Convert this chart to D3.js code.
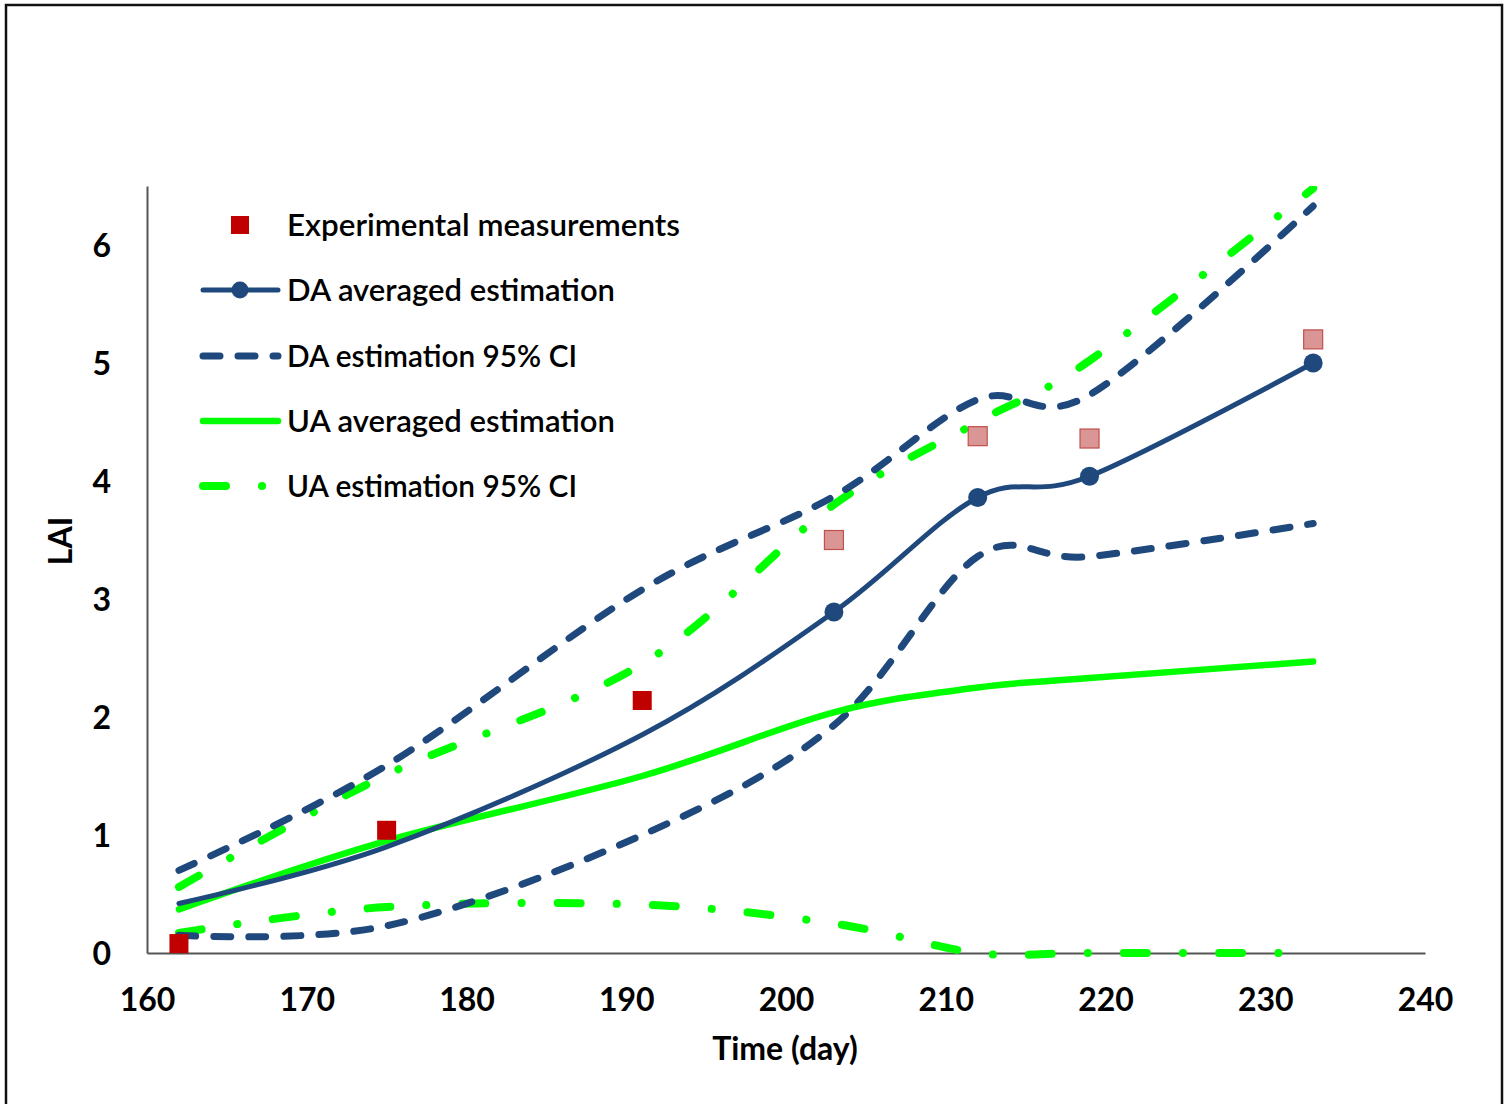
<!DOCTYPE html>
<html>
<head>
<meta charset="utf-8">
<script src="https://cdn.jsdelivr.net/npm/d3@7"></script>
<style>
  html, body { margin: 0; padding: 0; background: #fff; }
  svg { display: block; }
</style>
</head>
<body>
<svg id="chart" width="1508" height="1104"></svg>
<script>
// ---------------- data ----------------
const days          = [162, 175, 191, 203, 212, 219, 233];
const measured      = [0.08, 1.04, 2.14, 3.50, 4.38, 4.36, 5.20];
const assimilated   = [true, true, true, false, false, false, false];
const daMean        = [0.42, 0.90, 1.85, 2.89, 3.86, 4.04, 5.00];
const daMarker      = [false, false, false, true, true, true, true];
const daUpper       = [0.70, 1.59, 3.08, 3.87, 4.69, 4.73, 6.33];
const daLower       = [0.15, 0.23, 1.00, 1.93, 3.36, 3.36, 3.64];
const uaMean        = [0.37, 0.95, 1.50, 2.04, 2.25, 2.33, 2.47];
const uaUpper       = [0.56, 1.51, 2.45, 3.80, 4.50, 5.02, 6.48];
const uaLower       = [0.17, 0.39, 0.41, 0.25, 0.00, 0.00, 0.00];
const xTicks        = [160, 170, 180, 190, 200, 210, 220, 230, 240];
const yTicks        = [0, 1, 2, 3, 4, 5, 6];
const legendLabels  = ["Experimental measurements", "DA averaged estimation", "DA estimation 95% CI",
                       "UA averaged estimation", "UA estimation 95% CI"];

// ---------------- styles ----------------
const NAVY = "#1f497d", GREEN = "#00ff00", RED = "#c00000", PINK = "#d99694", PINK_STROKE = "#c0504d";
const FONT = "Lato, 'Open Sans', sans-serif";

const svg = d3.select("#chart");
svg.append("rect").attr("x", 6).attr("y", 5).attr("width", 1496).attr("height", 1120)
  .attr("fill", "none").attr("stroke", "#111").attr("stroke-width", 2.5);

const x = d3.scaleLinear().domain([160, 240]).range([147, 1425]);
const y = d3.scaleLinear().domain([0, 6.5]).range([953, 186]);

// axes
const xAxis = svg.append("g").attr("transform", `translate(0,${y(0)})`)
  .call(d3.axisBottom(x).tickValues(xTicks).tickSize(0).tickFormat(d3.format("d")));
xAxis.select(".domain").attr("stroke", "#555").attr("stroke-width", 2);
xAxis.selectAll("text").attr("y", 58).attr("dy", 0)
  .attr("font-family", FONT).attr("font-weight", "bold").attr("font-size", 32).attr("fill", "#000");

const yAxis = svg.append("g").attr("transform", `translate(${x(160)},0)`)
  .call(d3.axisLeft(y).tickValues(yTicks).tickSize(0).tickFormat(d3.format("d")));
yAxis.select(".domain").attr("stroke", "#555").attr("stroke-width", 2);
yAxis.selectAll("text").attr("x", -36).attr("dy", "0.36em")
  .attr("font-family", FONT).attr("font-weight", "bold").attr("font-size", 32).attr("fill", "#000");

svg.append("text").attr("x", 785).attr("y", 1060).attr("text-anchor", "middle")
  .attr("font-family", FONT).attr("font-weight", "bold").attr("font-size", 32).text("Time (day)");
svg.append("text").attr("transform", "translate(72,541) rotate(-90)").attr("text-anchor", "middle")
  .attr("font-family", FONT).attr("font-weight", "bold").attr("font-size", 32).text("LAI");

// clip (top of plot area only)
svg.append("clipPath").attr("id", "plotclip").append("rect")
  .attr("x", x(160) - 20).attr("y", y(6.5)).attr("width", x(240) - x(160) + 40).attr("height", y(0) - y(6.5) + 30);

const plot = svg.append("g").attr("clip-path", "url(#plotclip)");
const line = d3.line().x((d, i) => x(days[i])).y(d => y(d)).curve(d3.curveCatmullRom.alpha(0));

const DASH = "17 18", DASHDOT = "23 36 0.1 36";
const series = [
  {v: uaLower, color: GREEN, w: 8, dash: DASHDOT},
  {v: uaUpper, color: GREEN, w: 8, dash: DASHDOT},
  {v: daLower, color: NAVY, w: 7, dash: DASH},
  {v: daUpper, color: NAVY, w: 7, dash: DASH},
  {v: uaMean, color: GREEN, w: 6.5, dash: null},
  {v: daMean, color: NAVY, w: 5, dash: null}
];
series.forEach(s => {
  plot.append("path").attr("d", line(s.v)).attr("fill", "none")
    .attr("stroke", s.color).attr("stroke-width", s.w)
    .attr("stroke-linecap", "round").attr("stroke-linejoin", "round")
    .attr("stroke-dasharray", s.dash);
});

// DA markers
plot.selectAll("circle.da").data(daMean.map((v, i) => ({v, i})).filter(d => daMarker[d.i]))
  .enter().append("circle").attr("class", "da")
  .attr("cx", d => x(days[d.i])).attr("cy", d => y(d.v)).attr("r", 9.5).attr("fill", NAVY);

// measurement squares
const SQ = 19;
plot.selectAll("rect.obs").data(measured.map((v, i) => ({v, i})))
  .enter().append("rect").attr("class", "obs")
  .attr("x", d => x(days[d.i]) - SQ / 2).attr("y", d => y(d.v) - SQ / 2)
  .attr("width", SQ).attr("height", SQ)
  .attr("fill", d => assimilated[d.i] ? RED : PINK)
  .attr("stroke", d => assimilated[d.i] ? "none" : PINK_STROKE).attr("stroke-width", 1.2);

// legend
const legY = [225, 290, 356, 421, 486];
const legW = [393, 328, 290, 328, 290];
const lg = svg.append("g");
legendLabels.forEach((t, i) => {
  lg.append("text").attr("x", 287).attr("y", legY[i]).attr("dy", "0.35em")
    .attr("font-family", FONT).attr("font-size", 30).attr("font-weight", 600)
    .attr("textLength", legW[i]).attr("lengthAdjust", "spacingAndGlyphs").text(t);
});
lg.append("rect").attr("x", 240 - 9).attr("y", legY[0] - 9).attr("width", 18).attr("height", 18).attr("fill", RED);
const legSeries = [
  {color: NAVY, w: 5, dash: null, marker: true},
  {color: NAVY, w: 7, dash: DASH},
  {color: GREEN, w: 6.5, dash: null},
  {color: GREEN, w: 8, dash: DASHDOT}
];
legSeries.forEach((s, k) => {
  const yy = legY[k + 1];
  lg.append("line").attr("x1", 203).attr("x2", 278).attr("y1", yy).attr("y2", yy)
    .attr("stroke", s.color).attr("stroke-width", s.w).attr("stroke-linecap", "round")
    .attr("stroke-dasharray", s.dash);
  if (s.marker) lg.append("circle").attr("cx", 240).attr("cy", yy).attr("r", 8.5).attr("fill", s.color);
});
</script>
</body>
</html>
